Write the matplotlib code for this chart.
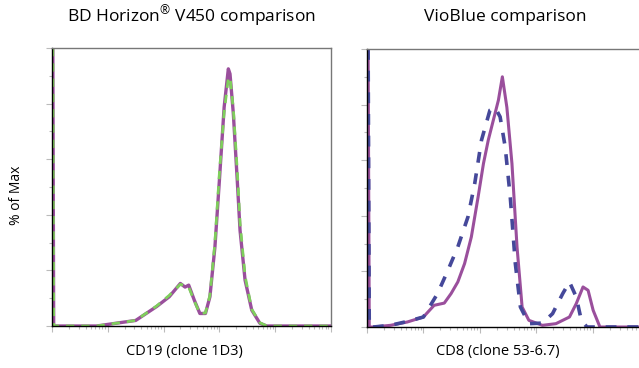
import numpy as np
import matplotlib
matplotlib.use("Agg")
import matplotlib.pyplot as plt

plt.rcParams['font.family'] = ['Open Sans', 'DejaVu Sans']
plt.rcParams['mathtext.fontset'] = 'custom'
plt.rcParams['mathtext.rm'] = 'Open Sans'

# CD19 panel (BD Horizon V450 vs. reference), x = normalized log fluorescence
cd19_x = [0.003, 0.006, 0.16, 0.23, 0.30, 0.375, 0.42, 0.46, 0.477, 0.49, 0.51, 0.53,
          0.55, 0.566, 0.584, 0.60, 0.617, 0.632, 0.638, 0.65, 0.664, 0.674, 0.692,
          0.716, 0.745, 0.77, 1.0]
cd19_solid = [1.0, 0.0, 0.0, 0.01, 0.02, 0.07, 0.105, 0.153, 0.14, 0.147, 0.093, 0.045,
              0.045, 0.105, 0.285, 0.524, 0.787, 0.925, 0.907, 0.763, 0.524, 0.344, 0.165,
              0.057, 0.01, 0.0, 0.0]
cd19_dashed = [1.0, 0.0, 0.0, 0.01, 0.02, 0.072, 0.11, 0.15, 0.145, 0.14, 0.09, 0.045,
               0.047, 0.11, 0.30, 0.55, 0.77, 0.89, 0.895, 0.78, 0.56, 0.37, 0.18,
               0.06, 0.012, 0.0, 0.0]

# CD8 panel (VioBlue vs. reference)
cd8_x_solid = [0.004, 0.008, 0.023, 0.083, 0.143, 0.20, 0.238, 0.274, 0.298, 0.322, 0.346,
               0.37, 0.394, 0.413, 0.43, 0.448, 0.466, 0.48, 0.496, 0.514, 0.532, 0.55,
               0.574, 0.622, 0.67, 0.718, 0.742, 0.766, 0.784, 0.802, 0.826, 1.0]
cd8_solid = [1.0, 0.0, 0.0, 0.006, 0.018, 0.036, 0.078, 0.086, 0.12, 0.162, 0.228,
             0.324, 0.468, 0.588, 0.672, 0.744, 0.816, 0.90, 0.79, 0.588, 0.288, 0.072,
             0.024, 0.006, 0.012, 0.036, 0.084, 0.144, 0.132, 0.06, 0.0, 0.0]
cd8_x_dashed = [0.004, 0.008, 0.023, 0.083, 0.143, 0.20, 0.25, 0.287, 0.322, 0.358, 0.382,
                0.406, 0.436, 0.454, 0.472, 0.49, 0.508, 0.526, 0.544, 0.574, 0.622,
                0.658, 0.694, 0.718, 0.742, 0.76, 0.78, 1.0]
cd8_dashed = [1.0, 0.0, 0.0, 0.006, 0.02, 0.036, 0.12, 0.204, 0.288, 0.396, 0.516,
              0.672, 0.78, 0.79, 0.756, 0.648, 0.468, 0.228, 0.072, 0.012, 0.014,
              0.048, 0.12, 0.162, 0.108, 0.024, 0.0, 0.0]

titles = ["BD Horizon$^{\\mathrm{\u00ae}}$ V450 comparison", "VioBlue comparison"]
xlabels = ["CD19 (clone 1D3)", "CD8 (clone 53-6.7)"]

purple = "#9a4f9c"
green = "#7fcf5c"
navy = "#45489a"

fig = plt.figure(figsize=(6.39, 3.68), dpi=100)
W, H = 639, 368
ax1 = fig.add_axes([52 / W, 1 - 326 / H, 279 / W, 278 / H])
ax2 = fig.add_axes([367 / W, 1 - 327 / H, 282 / W, 278 / H])

ax1.plot(cd19_x, cd19_solid, color=purple, lw=2.4, solid_joinstyle='round')
ax1.plot(cd19_x, cd19_dashed, color=green, lw=2.0, ls=(0, (3, 2.5)))
ax2.plot(cd8_x_solid, cd8_solid, color=purple, lw=2.2, solid_joinstyle='round')
ax2.plot(cd8_x_dashed, cd8_dashed, color=navy, lw=2.6, ls=(0, (3, 3)))

xminor = [d + np.log10(k) / 5 for d in np.arange(0, 1, 0.2) for k in range(2, 10)]
for ax in [ax1, ax2]:
    ax.set_xlim(0, 1)
    ax.set_ylim(0, 1.0)
    ax.set_xticks(np.arange(0, 1.01, 0.2))
    ax.set_xticks(xminor, minor=True)
    ax.set_yticks(np.arange(0, 1.01, 0.2))
    ax.set_yticks(np.arange(0.1, 1.0, 0.2), minor=True)
    ax.set_xticklabels([])
    ax.set_yticklabels([])
    ax.tick_params(which='both', color='#bbbbbb', width=0.8)
    ax.tick_params(which='major', length=4)
    ax.tick_params(which='minor', length=2.5)
    for s in ['left', 'bottom']:
        ax.spines[s].set_color('black')
        ax.spines[s].set_linewidth(1.0)
    for s in ['top', 'right']:
        ax.spines[s].set_color('#777777')
        ax.spines[s].set_linewidth(1.0)

fig.text(191 / W, 1 - 17 / H, titles[0], ha='center', va='center', fontsize=12.5)
fig.text(505 / W, 1 - 17 / H, titles[1], ha='center', va='center', fontsize=12.5)
fig.text(184 / W, 1 - 351 / H, xlabels[0], ha='center', va='center', fontsize=10.5)
fig.text(498 / W, 1 - 351 / H, xlabels[1], ha='center', va='center', fontsize=10.5)
fig.text(17 / W, 1 - 195 / H, "% of Max", ha='center', va='center', rotation=90, fontsize=10)

fig.savefig("out.png", dpi=100)
